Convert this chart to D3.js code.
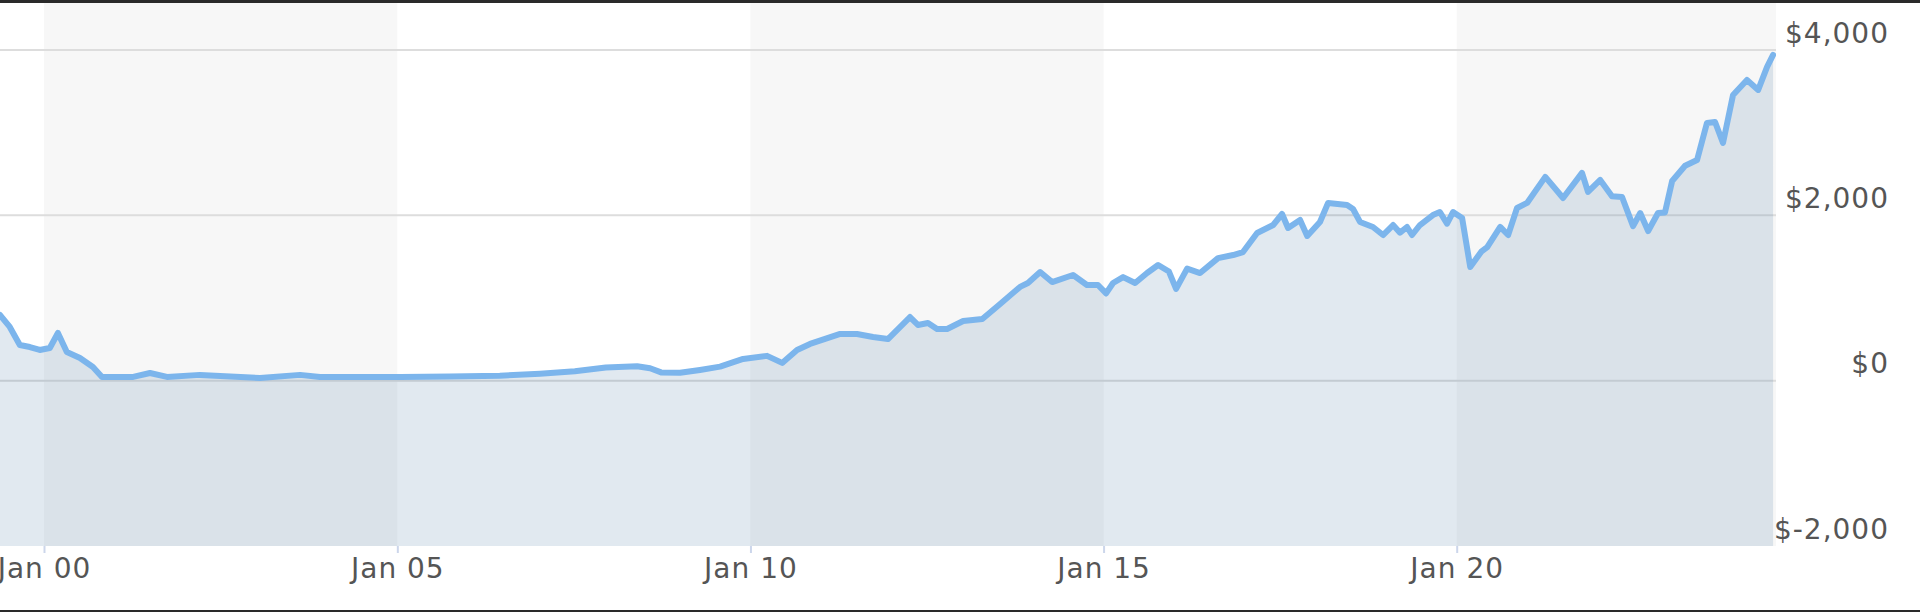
<!DOCTYPE html>
<html>
<head>
<meta charset="utf-8">
<script src="https://cdn.jsdelivr.net/npm/d3@7"></script>
<style>
  html, body { margin: 0; padding: 0; background: #ffffff; }
  svg { display: block; }
  text { font-family: "DejaVu Sans", Verdana, sans-serif; }
</style>
</head>
<body>
<svg id="chart" width="1920" height="612"></svg>
<script>
// ---- data ----
const dates = [
  "1999-05-18","1999-07-08","1999-08-29","1999-10-20","1999-12-10","2000-01-31","2000-03-13","2000-04-28",
  "2000-07-05","2000-09-10","2000-10-27","2001-04-06","2001-07-02","2001-09-28","2002-03-17","2003-01-22",
  "2003-08-17","2003-11-28","2005-01-15","2005-09-30","2006-06-15","2007-01-09","2007-07-08","2007-12-15",
  "2008-05-25","2008-07-31","2008-09-26","2009-01-02","2009-04-15","2009-07-28","2009-11-24","2010-03-28",
  "2010-06-14","2010-08-30","2010-11-05","2011-04-10","2011-07-06","2011-09-27","2011-12-13","2012-04-05",
  "2012-05-16","2012-07-07","2012-08-23","2012-10-14","2013-01-05","2013-04-14","2013-07-15","2013-10-26",
  "2013-12-06","2014-02-07","2014-04-10","2014-07-27","2014-10-07","2014-12-03","2015-01-14","2015-02-19",
  "2015-04-12","2015-06-13","2015-08-14","2015-10-10","2015-12-05","2016-01-11","2016-03-08","2016-05-14",
  "2016-08-15","2016-11-01","2016-12-22","2017-03-05","2017-05-27","2017-07-12","2017-08-12","2017-10-13",
  "2017-11-19","2018-01-24","2018-03-07","2018-06-13","2018-07-14","2018-08-19","2018-10-25","2018-12-16",
  "2019-02-06","2019-03-14","2019-04-19","2019-05-15","2019-06-25","2019-08-31","2019-10-06","2019-11-12",
  "2019-12-13","2020-01-29","2020-03-11","2020-05-07","2020-06-07","2020-08-13","2020-09-23","2020-11-08",
  "2020-12-30","2021-04-03","2021-07-04","2021-10-10","2021-11-10","2022-01-12","2022-03-14","2022-05-05",
  "2022-07-01","2022-08-07","2022-09-17","2022-11-07","2022-12-13","2023-01-19","2023-03-27","2023-05-28",
  "2023-07-18","2023-08-29","2023-10-09","2023-11-30","2024-02-10","2024-04-08","2024-05-24","2024-06-24"
];
const values = [
  795,650,432,407,371,395,577,347,
  275,166,45,45,93,45,70,33,
  70,45,45,50,60,85,115,160,
  175,150,100,95,130,170,263,300,
  215,371,444,565,565,529,504,770,
  674,698,625,625,722,746,928,1134,
  1181,1314,1193,1278,1157,1157,1055,1181,
  1253,1181,1302,1399,1320,1110,1355,1302,
  1483,1520,1556,1786,1883,2016,1847,1944,
  1750,1920,2150,2125,2077,1920,1859,1762,
  1883,1790,1859,1762,1883,2004,2040,1900,
  2040,1968,1375,1560,1616,1860,1762,2089,
  2150,2465,2210,2513,2283,2428,2230,2222,
  1870,2028,1810,2028,2035,2415,2600,2670,
  3117,3129,2875,3456,3638,3517,3795,3940
];
const xTickYears = [2000, 2005, 2010, 2015, 2020];
const yTicks = [-2000, 0, 2000, 4000];
const bandRanges = [[2000, 2005], [2010, 2015], [2020, 2025]];

// ---- layout ----
const svg = d3.select("#chart");
const W = 1920, H = 612;
const plotLeft = 0, plotRight = 1776, plotTop = 3, plotBottom = 546;

const parse = d3.utcParse("%Y-%m-%d");
const data = dates.map((d, i) => ({ date: parse(d), value: values[i] }));

const x = d3.scaleUtc()
  .domain([new Date(Date.UTC(2000, 0, 1)), new Date(Date.UTC(2020, 0, 1))])
  .range([44, 1456.7]);
const y = d3.scaleLinear().domain([-2000, 4000]).range([546, 50]);

svg.append("rect").attr("width", W).attr("height", H).attr("fill", "#ffffff");

svg.append("defs").append("clipPath").attr("id", "plotclip")
  .append("rect").attr("x", plotLeft).attr("y", plotTop)
  .attr("width", plotRight - plotLeft).attr("height", plotBottom - plotTop);

const plot = svg.append("g").attr("clip-path", "url(#plotclip)");

// alternating bands
plot.selectAll("rect.band").data(bandRanges).enter().append("rect")
  .attr("class", "band")
  .attr("x", d => x(new Date(Date.UTC(d[0], 0, 1))))
  .attr("width", d => x(new Date(Date.UTC(d[1], 0, 1))) - x(new Date(Date.UTC(d[0], 0, 1))))
  .attr("y", plotTop).attr("height", plotBottom - plotTop)
  .attr("fill", "#f7f7f7");

// gridlines
plot.selectAll("line.grid").data(yTicks.filter(t => t > -2000)).enter().append("line")
  .attr("x1", plotLeft).attr("x2", plotRight)
  .attr("y1", d => y(d)).attr("y2", d => y(d))
  .attr("stroke", "#dddddd").attr("stroke-width", 2);

// area
const area = d3.area().x(d => x(d.date)).y0(plotBottom).y1(d => y(d.value));
plot.append("path").datum(data).attr("d", area)
  .attr("fill", "rgba(40,100,150,0.14)");

// line
const line = d3.line().x(d => x(d.date)).y(d => y(d.value));
plot.append("path").datum(data).attr("d", line)
  .attr("fill", "none").attr("stroke", "#7cb5ec").attr("stroke-width", 6)
  .attr("stroke-linejoin", "round").attr("stroke-linecap", "round");

// x axis
const xAxis = d3.axisBottom(x)
  .tickValues(xTickYears.map(yr => new Date(Date.UTC(yr, 0, 1))))
  .tickFormat(d3.utcFormat("Jan %y"))
  .tickSize(7).tickPadding(8);
const gx = svg.append("g").attr("transform", `translate(0,${plotBottom})`).call(xAxis);
gx.select(".domain").remove();
gx.selectAll(".tick line").attr("stroke", "#ccd6eb").attr("stroke-width", 2);
gx.selectAll(".tick text").attr("fill", "#555555").attr("font-size", 28)
  .attr("font-family", "DejaVu Sans").attr("letter-spacing", 1)
  .attr("dy", null).attr("y", 32);

// y axis (right side labels)
const yAxis = d3.axisRight(y).tickValues(yTicks)
  .tickFormat(d => (d < 0 ? "$-" : "$") + d3.format(",")(Math.abs(d)))
  .tickSize(0);
const gy = svg.append("g").attr("transform", `translate(1889,0)`).call(yAxis);
gy.select(".domain").remove();
gy.selectAll(".tick text").attr("fill", "#555555").attr("font-size", 28)
  .attr("font-family", "DejaVu Sans").attr("letter-spacing", 1)
  .attr("text-anchor", "end").attr("x", 0).attr("dy", null).attr("y", -8);

// frame lines
svg.append("rect").attr("x", 0).attr("y", 0).attr("width", W).attr("height", 3).attr("fill", "#2a2a2a");
svg.append("rect").attr("x", 0).attr("y", 610).attr("width", W).attr("height", 2).attr("fill", "#2a2a2a");
</script>
</body>
</html>
